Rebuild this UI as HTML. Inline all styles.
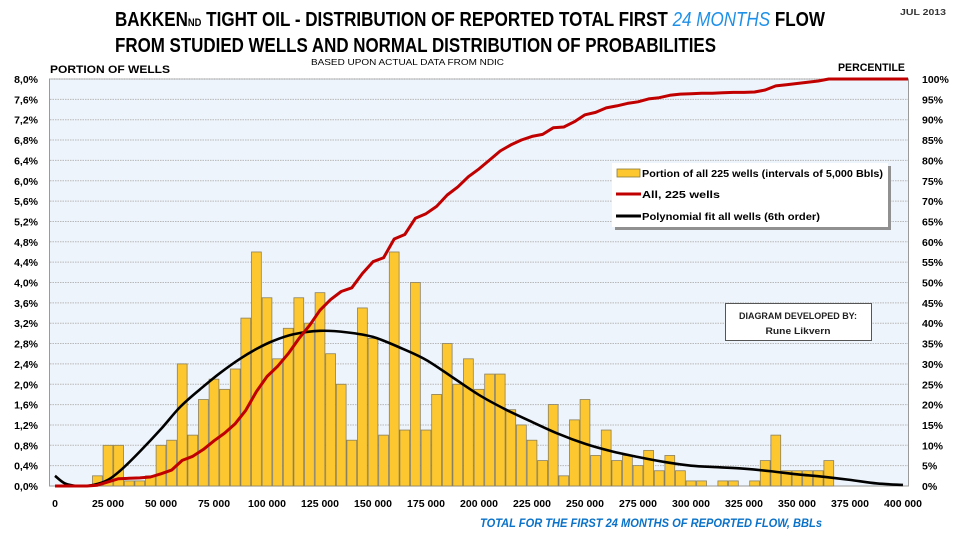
<!DOCTYPE html>
<html><head><meta charset="utf-8"><style>
html,body{margin:0;padding:0;background:#fff}
svg{display:block}
text{font-family:"Liberation Sans",sans-serif}
</style></head><body>
<svg id="s" width="960" height="540" xmlns="http://www.w3.org/2000/svg">
<rect x="0" y="0" width="960" height="540" fill="#fff"/>
<rect x="49.5" y="79" width="859" height="407" fill="#eef4fb" stroke="#9a9a9a" stroke-width="1"/>
<g id="grid"></g>
<g id="bars"></g>
<path id="black" fill="none" stroke="#000" stroke-width="2.6" stroke-linejoin="round"/>
<path id="red" fill="none" stroke="#c00000" stroke-width="3" stroke-linejoin="round"/>
<g id="ylab" font-size="10.5" font-weight="bold" fill="#000"></g>
<g id="xlab" font-size="10.5" font-weight="bold" fill="#000"></g>
<text x="115" y="26" font-size="20" font-weight="bold" textLength="710" lengthAdjust="spacingAndGlyphs">BAKKEN<tspan font-size="11">ND</tspan> TIGHT OIL - DISTRIBUTION OF REPORTED TOTAL FIRST <tspan fill="#1e90e8" font-style="italic" font-weight="normal">24 MONTHS</tspan> FLOW</text>
<text x="115" y="52" font-size="20" font-weight="bold" textLength="601" lengthAdjust="spacingAndGlyphs">FROM STUDIED WELLS AND NORMAL DISTRIBUTION OF PROBABILITIES</text>
<text x="311" y="65" font-size="8.5" textLength="193" lengthAdjust="spacingAndGlyphs">BASED UPON  ACTUAL DATA FROM NDIC</text>
<text x="50" y="73" font-size="11" font-weight="bold" textLength="120" lengthAdjust="spacingAndGlyphs">PORTION  OF WELLS</text>
<text x="838" y="71" font-size="11" font-weight="bold" textLength="67" lengthAdjust="spacingAndGlyphs">PERCENTILE</text>
<text x="900" y="15" font-size="8.5" font-weight="bold" fill="#333" textLength="46" lengthAdjust="spacingAndGlyphs">JUL 2013</text>
<text x="480" y="527" font-size="12" font-weight="bold" font-style="italic" fill="#0a72c8" textLength="342" lengthAdjust="spacingAndGlyphs">TOTAL  FOR THE FIRST 24 MONTHS OF REPORTED FLOW, BBLs</text>
<rect x="615" y="166" width="276" height="64" fill="#909090"/>
<rect x="612" y="163" width="276" height="64" fill="#fff"/>
<rect x="617" y="169" width="23" height="8" fill="#fdc82f" stroke="#8a7a3a" stroke-width="0.8"/>
<text x="642" y="177" font-size="10.5" font-weight="bold" textLength="241" lengthAdjust="spacingAndGlyphs">Portion of all 225 wells (intervals of 5,000 Bbls)</text>
<line x1="616" y1="194" x2="641" y2="194" stroke="#c00000" stroke-width="3"/>
<text x="642" y="198" font-size="10.5" font-weight="bold" textLength="78" lengthAdjust="spacingAndGlyphs">All, 225 wells</text>
<line x1="616" y1="216" x2="641" y2="216" stroke="#000" stroke-width="3"/>
<text x="642" y="220" font-size="10.5" font-weight="bold" textLength="178" lengthAdjust="spacingAndGlyphs">Polynomial fit all wells (6th  order)</text>
<rect x="725.5" y="303.5" width="146" height="37" fill="#fff" stroke="#555" stroke-width="1"/>
<text x="798" y="319" font-size="9.5" font-weight="bold" text-anchor="middle" fill="#222" textLength="118" lengthAdjust="spacingAndGlyphs">DIAGRAM DEVELOPED BY:</text>
<text x="798" y="334" font-size="9.5" font-weight="bold" text-anchor="middle" fill="#222" textLength="65" lengthAdjust="spacingAndGlyphs">Rune Likvern</text>
</svg>
<script>
(function(){
var NS="http://www.w3.org/2000/svg";
function el(p,t,a,txt){var e=document.createElementNS(NS,t);for(var k in a)e.setAttribute(k,a[k]);if(txt!=null)e.textContent=txt;document.getElementById(p).appendChild(e);return e;}
var y0=486,ppp=50.875;
function Y(v){return y0-v*ppp;}
var x0=49.7,cw=10.6;
function CX(k){return x0+cw*k+cw/2;}
for(var i=1;i<=20;i++){var y=Y(i*0.4);el("grid","line",{x1:50,x2:908,y1:y,y2:y,stroke:"#b8b8b8","stroke-width":1,"stroke-dasharray":"1.5,1"});}
for(var i=0;i<=20;i++){var v=(i*0.4).toFixed(1).replace(".",",");el("ylab","text",{x:38,y:Y(i*0.4)+4,"text-anchor":"end"},v+"%");
 el("ylab","text",{x:922,y:Y(i*0.4)+4},(i*5)+"%");}
var d=[0.2,0.8,0.8,0.1,0.1,0.2,0.8,0.9,2.4,1.0,1.7,2.1,1.9,2.3,3.3,4.6,3.7,2.5,3.1,3.7,3.2,3.8,2.6,2.0,0.9,3.5,
2.9,1.0,4.6,1.1,4.0,1.1,1.8,2.8,2.0,2.5,1.9,2.2,2.2,1.5,1.2,0.9,0.5,1.6,0.2,1.3,1.7,0.6,1.1,
0.5,0.6,0.4,0.7,0.3,0.6,0.3,0.1,0.1,0,0.1,0.1,0,0.1,0.5,1.0,0.3,0.3,0.3,0.3,0.5];
var tot=0;d.forEach(function(v){tot+=v;});
var cum=0,pts=[[CX(0),Y(0)]];
for(var k=0;k<4;k++)pts.push([CX(k),Y(0)]);
for(var i=0;i<d.length;i++){var k=i+4,v=d[i];
 if(v>0)el("bars","rect",{x:x0+cw*k+0.4,y:Y(v),width:cw-0.8,height:v*ppp,fill:"#fdc82f",stroke:"#8a8060","stroke-width":0.8});
 cum+=v;pts.push([CX(k),Y(cum/tot*8)]);}
pts.push([908,Y(8)]);
var s="M"+pts[0][0]+","+pts[0][1];for(var i=1;i<pts.length;i++)s+=" L"+pts[i][0].toFixed(1)+","+pts[i][1].toFixed(1);
document.getElementById("red").setAttribute("d",s);
var bp=[[55,0.2],[65,0.05],[78,0.0],[93,0.02],[108,0.12],[123,0.35],[140,0.68],[161,1.12],[180,1.55],[200,1.9],[220,2.22],[240,2.5],[257,2.7],[273,2.85],[293,2.98],[320,3.05],[347,3.02],[373,2.93],[400,2.72],[426,2.48],[453,2.13],[479,1.79],[506,1.5],[532,1.26],[559,1.02],[585,0.83],[612,0.68],[638,0.57],[665,0.47],[691,0.4],[718,0.37],[744,0.34],[771,0.29],[797,0.23],[824,0.18],[850,0.12],[877,0.05],[903,0.02]];
var P=bp.map(function(p){return [p[0],Y(p[1])];});
var c="M"+P[0][0]+","+P[0][1];
for(var i=0;i<P.length-1;i++){var p0=P[i-1]||P[i],p1=P[i],p2=P[i+1],p3=P[i+2]||p2;
 c+=" C"+(p1[0]+(p2[0]-p0[0])/6).toFixed(1)+","+(p1[1]+(p2[1]-p0[1])/6).toFixed(1)+" "+(p2[0]-(p3[0]-p1[0])/6).toFixed(1)+","+(p2[1]-(p3[1]-p1[1])/6).toFixed(1)+" "+p2[0]+","+p2[1];}
document.getElementById("black").setAttribute("d",c);
for(var i=0;i<=16;i++){var v=i*25000;var t=v==0?"0":(Math.floor(v/1000)+" "+("00"+(v%1000)).slice(-3));
 el("xlab","text",{x:CX(i*5),y:507,"text-anchor":"middle"},t);}
})();
</script>
</body></html>
